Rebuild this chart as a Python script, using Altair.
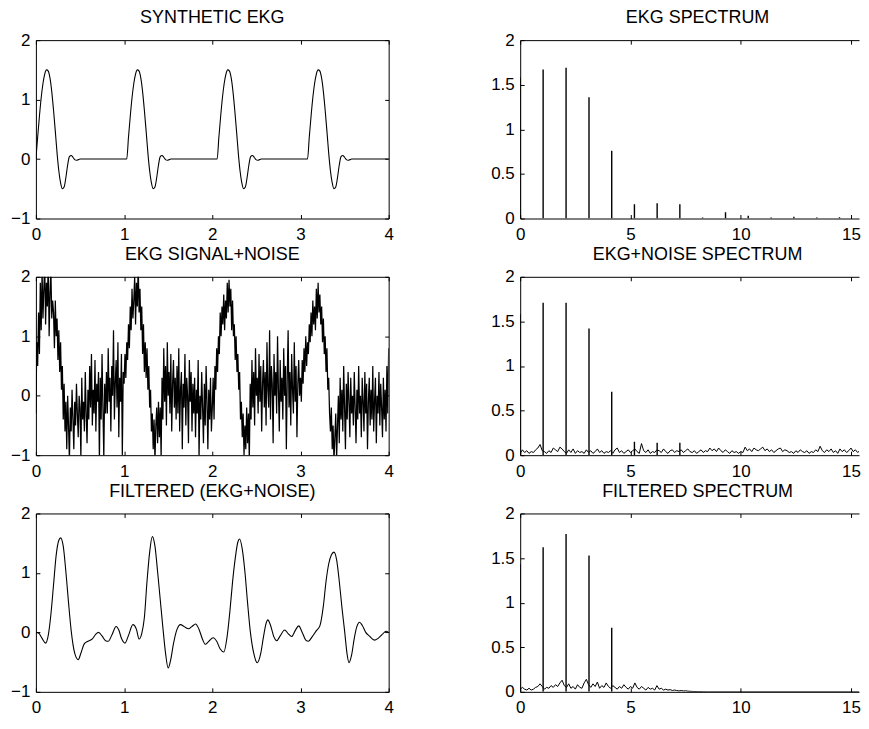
import altair as alt
import numpy as np
import pandas as pd

FONT = "Liberation Sans"
LW, RW, H = 354, 340, 179

# ---------------- data ----------------
# synthetic EKG: one beat shape (offset from beat start, s) and beat starts
beat_offset = np.round(np.arange(26) * 0.02, 2)
beat_shape = [0.0, 0.37, 0.72, 1.03, 1.27, 1.43, 1.50, 1.48, 1.36, 1.13,
              0.82, 0.47, 0.10, -0.20, -0.40, -0.50, -0.47, -0.31, -0.10, 0.04,
              0.06, 0.03, -0.01, -0.02, -0.01, 0.0]
beat_starts = [0.0, 1.03, 2.055, 3.08]

# EKG + noise, sampled every 0.01 s from 0 to 4 s
noisy_t = np.round(np.arange(401) * 0.01, 2)
noisy_y = [
    -0.3, 0.9, 0.5, 1.4, 0.7, 1.9, 1.1, 2.1, 1.3, 1.8, 2.2, 1.2, 1.9, 1.5, 2.3, 1.0, 1.7, 2.1, 1.3, 1.6,
    1.4, 0.8, 1.6, 1.0, 1.3, 0.6, 1.1, 0.4, 0.9, 0.1, 0.5, -0.4, 0.2, -0.6, -0.1, -0.9, 0.0, -0.5, -1.1, -0.2,
    -0.6, 0.1, -0.4, -0.9, -0.1, -0.5, 0.2, -0.3, -0.7, 0.0, -0.2, -1.05, 0.3, -0.4, -0.1, -0.6, 0.4, -0.3, -0.8, 0.1,
    -0.4, 0.5, -0.2, 0.7, -0.5, 0.1, -0.3, 0.6, -0.6, 0.2, -0.1, 0.4, -1.1, 0.3, -0.4, 0.7, -0.2, -1.05, 0.2, -0.3,
    0.4, -0.3, 0.8, -0.1, 0.3, -0.6, 0.5, 0.0, 1.1, -0.4, 0.2, 0.6, -0.2, 0.9, -0.7, 0.3, -0.1, 0.7, -1.0, 0.4,
    0.2, 0.7, 0.3, 0.9, 0.6, 1.2, 0.8, 1.5, 1.1, 1.8, 1.3, 1.6, 2.0, 1.2, 1.9, 1.5, 2.2, 1.4, 1.8, 1.1,
    1.5, 0.7, 1.2, 0.4, 0.9, 0.3, 0.8, 0.1, 0.5, -0.2, 0.1, -0.6, -0.3, -0.9, -0.4, -1.1, -0.5, -0.2, -0.8, -0.1,
    -0.7, -0.2, -1.05, 0.3, -0.4, 0.8, -0.1, 0.5, -0.5, 0.9, 0.0, 0.4, -0.3, 0.7, -0.6, 0.2, 0.6, -0.2, 0.3, -0.4,
    0.5, -0.3, 0.8, -0.6, 0.1, 0.4, -0.9, 0.2, -0.2, 0.7, -0.5, 0.3, 0.0, -0.8, 0.6, -0.1, 0.4, -0.6, 0.2, -0.3,
    0.3, -0.7, 0.1, -0.3, 0.6, -1.05, 0.0, -0.4, 0.4, -0.2, -0.8, 0.2, -0.5, 0.5, -0.1, -0.9, 0.1, -0.4, 0.3, -0.6,
    -0.2, 0.3, -0.4, 0.5, 0.1, 0.8, 0.4, 1.0, 0.7, 1.4, 1.0, 1.5, 1.2, 1.7, 1.1, 1.6, 1.3, 1.9, 1.4, 1.95,
    1.5, 1.8, 1.1, 1.6, 1.0, 1.2, 0.6, 1.0, 0.4, 0.7, 0.1, 0.4, -0.4, -0.1, -0.7, -0.3, -1.0, -0.5, -0.9, -0.2,
    -0.8, -0.3, -1.1, 0.2, -0.4, 0.6, -0.2, 0.4, -0.5, 0.8, 0.0, 0.3, -0.3, 0.7, -0.1, 0.5, -0.6, 0.2, 0.6, -0.2,
    0.4, -0.5, 0.9, 0.1, -0.2, 1.1, -0.4, 0.5, 0.2, -0.8, 0.7, 0.0, 0.4, -0.3, 1.0, 0.1, -0.6, 0.6, -0.1, 0.3,
    -0.4, 0.8, 0.0, 0.5, -0.9, 0.3, 1.1, -0.2, 0.4, -0.5, 0.7, 0.1, -0.3, 0.9, -0.1, 0.5, -0.7, 0.2, 0.6, 0.0,
    0.3, -0.1, 0.6, 0.2, 0.8, 0.4, 1.0, 0.5, 0.9, 0.7, 1.2, 0.9, 1.4, 1.0, 1.6, 1.2, 1.5, 1.1, 1.8, 1.3,
    1.9, 1.4, 1.7, 1.2, 1.5, 0.9, 1.3, 0.7, 1.0, 0.4, 0.8, 0.1, 0.3, -0.3, -0.6, -0.2, -0.9, -0.5, -1.1, -0.7,
    -0.3, -1.05, -0.5, 0.0, -0.8, 0.3, -0.4, 0.1, -0.6, 0.5, -0.2, -0.9, 0.2, -0.4, 0.4, -0.1, -0.7, 0.3, -0.3, 0.0,
    -0.5, 0.4, -0.2, -0.8, 0.1, -0.4, 0.5, -0.3, 0.0, -0.7, 0.3, -0.1, -0.6, 0.4, -0.3, 0.2, -0.9, -0.1, 0.3, -0.5,
    0.1, -0.4, 0.5, -0.6, -0.1, 0.3, -0.8, 0.0, -0.3, 0.4, -0.5, 0.2, -0.2, -0.7, 0.3, -0.4, 0.1, -0.6, 0.5, -0.3,
    0.8,
]

# filtered (EKG + noise)
filt_t = [0.00, 0.03, 0.07, 0.11, 0.14, 0.17, 0.20, 0.23, 0.26, 0.28, 0.31, 0.34, 0.37, 0.40, 0.44,
          0.48, 0.51, 0.55, 0.59, 0.64, 0.68, 0.71, 0.75, 0.79, 0.82, 0.86, 0.91, 0.94, 0.97, 1.01,
          1.05, 1.10, 1.14, 1.17, 1.20, 1.23, 1.26, 1.29, 1.32, 1.35, 1.38, 1.41, 1.44, 1.47, 1.50,
          1.53, 1.56, 1.60, 1.64, 1.68, 1.73, 1.77, 1.81, 1.85, 1.89, 1.92, 1.96, 2.01, 2.05, 2.09,
          2.13, 2.17, 2.20, 2.23, 2.26, 2.29, 2.31, 2.34, 2.37, 2.40, 2.43, 2.47, 2.51, 2.55, 2.58,
          2.61, 2.63, 2.66, 2.70, 2.73, 2.77, 2.82, 2.86, 2.90, 2.94, 2.98, 3.02, 3.06, 3.09, 3.13,
          3.18, 3.22, 3.26, 3.29, 3.32, 3.35, 3.38, 3.41, 3.44, 3.47, 3.50, 3.53, 3.55, 3.58, 3.61,
          3.64, 3.67, 3.70, 3.74, 3.78, 3.84, 3.88, 3.93, 3.97, 4.00]
filt_y = [0.00, -0.01, -0.10, -0.18, -0.05, 0.30, 0.80, 1.30, 1.55, 1.59, 1.45, 1.02, 0.50, 0.03, -0.35,
          -0.46, -0.35, -0.19, -0.15, -0.11, -0.03, 0.00, -0.06, -0.14, -0.15, -0.05, 0.10, 0.04, -0.10, -0.18,
          -0.05, 0.13, 0.05, -0.11, -0.02, 0.25, 0.86, 1.35, 1.61, 1.45, 1.02, 0.55, 0.08, -0.35, -0.60,
          -0.45, -0.19, 0.05, 0.13, 0.10, 0.06, 0.10, 0.14, 0.05, -0.12, -0.20, -0.15, -0.09, -0.15, -0.28,
          -0.33, -0.05, 0.36, 0.85, 1.24, 1.52, 1.57, 1.40, 1.02, 0.50, 0.03, -0.35, -0.51, -0.35, -0.08,
          0.15, 0.21, 0.12, -0.08, -0.14, -0.06, 0.04, -0.02, -0.07, 0.03, 0.11, 0.00, -0.13, -0.15, -0.08,
          0.03, 0.11, 0.45, 0.86, 1.15, 1.30, 1.35, 1.22, 0.86, 0.42, 0.03, -0.38, -0.51, -0.38, -0.10,
          0.10, 0.17, 0.12, 0.00, -0.06, -0.13, -0.10, -0.03, 0.02, 0.00]

# spectra: harmonic peaks (Hz, magnitude)
ekg_peak_f = [0.0, 1.04, 2.08, 3.12, 4.15, 5.18, 6.21, 7.24, 8.27, 9.31, 10.34, 11.38, 12.41, 13.45, 14.48]
ekg_peak_a = [1.58, 1.67, 1.69, 1.36, 0.76, 0.16, 0.17, 0.16, 0.01, 0.07, 0.03, 0.01, 0.02, 0.01, 0.015]

noise_peak_f = [0.0, 1.04, 2.08, 3.12, 4.15, 5.18, 6.21, 7.24]
noise_peak_a = [1.58, 1.71, 1.71, 1.42, 0.71, 0.15, 0.14, 0.14]
noise_floor_f = np.round(np.arange(158) * 0.1, 1)
noise_floor_a = [
    0.02, 0.06, 0.03, 0.05, 0.02, 0.04, 0.03, 0.06, 0.08, 0.12,
    0.05, 0.04, 0.02, 0.05, 0.03, 0.08, 0.06, 0.04, 0.09, 0.07,
    0.04, 0.02, 0.06, 0.03, 0.07, 0.02, 0.05, 0.03, 0.04, 0.02,
    0.06, 0.03, 0.05, 0.02, 0.04, 0.07, 0.03, 0.05, 0.02, 0.04,
    0.03, 0.05, 0.02, 0.06, 0.08, 0.03, 0.05, 0.02, 0.04, 0.06,
    0.03, 0.05, 0.07, 0.04, 0.02, 0.13, 0.05, 0.03, 0.06, 0.02,
    0.04, 0.03, 0.06, 0.05, 0.03, 0.07, 0.04, 0.02, 0.05, 0.06,
    0.03, 0.05, 0.04, 0.06, 0.03, 0.05, 0.07, 0.04, 0.03, 0.05,
    0.02, 0.04, 0.06, 0.03, 0.05, 0.04, 0.08, 0.05, 0.07, 0.04,
    0.08, 0.05, 0.03, 0.06, 0.04, 0.02, 0.05, 0.03, 0.04, 0.02,
    0.04, 0.03, 0.09, 0.05, 0.07, 0.04, 0.08, 0.06, 0.05, 0.07,
    0.09, 0.05, 0.07, 0.04, 0.06, 0.03, 0.05, 0.07, 0.08, 0.04,
    0.06, 0.05, 0.03, 0.04, 0.02, 0.05, 0.03, 0.06, 0.04, 0.03,
    0.05, 0.02, 0.04, 0.03, 0.06, 0.04, 0.10, 0.05, 0.03, 0.06,
    0.04, 0.07, 0.03, 0.05, 0.02, 0.07, 0.04, 0.06, 0.03, 0.05,
    0.08, 0.04, 0.06, 0.03, 0.05, 0.07, 0.04, 0.05,
]

filt_peak_f = [0.0, 1.04, 2.08, 3.12, 4.15]
filt_peak_a = [1.43, 1.62, 1.77, 1.53, 0.72]
filt_floor_f = list(np.round(np.arange(86) * 0.1, 1)) + [15.7]
filt_floor_a = [
    0.03, 0.05, 0.03, 0.02, 0.04, 0.02, 0.03, 0.05, 0.06, 0.09,
    0.06, 0.03, 0.05, 0.04, 0.07, 0.05, 0.08, 0.06, 0.10, 0.13,
    0.07, 0.05, 0.09, 0.04, 0.06, 0.03, 0.08, 0.05, 0.04, 0.10,
    0.14, 0.08, 0.05, 0.09, 0.06, 0.11, 0.04, 0.07, 0.05, 0.10,
    0.06, 0.04, 0.07, 0.05, 0.03, 0.06, 0.04, 0.08, 0.05, 0.03,
    0.06, 0.04, 0.10, 0.05, 0.03, 0.06, 0.04, 0.02, 0.05, 0.03,
    0.04, 0.02, 0.07, 0.03, 0.04, 0.02, 0.03, 0.02, 0.025, 0.015,
    0.02, 0.015, 0.01, 0.015, 0.01, 0.012, 0.008, 0.006, 0.005, 0.004,
    0.003, 0.002, 0.002, 0.001, 0.001, 0.0,
    0.0,
]

titles = ["SYNTHETIC EKG", "EKG SPECTRUM", "EKG SIGNAL+NOISE",
          "EKG+NOISE SPECTRUM", "FILTERED (EKG+NOISE)", "FILTERED SPECTRUM"]
time_ticks = [0, 1, 2, 3, 4]
sig_ticks = [-1, 0, 1, 2]
freq_ticks = [0, 5, 10, 15]
mag_ticks = [0, 0.5, 1, 1.5, 2]

# ---------------- tables ----------------
ekg_rows = []
for s in beat_starts:
    for o, v in zip(beat_offset, beat_shape):
        ekg_rows.append((s + o, v))
ekg_rows.append((4.0, 0.0))
df_ekg = pd.DataFrame(ekg_rows, columns=["t", "y"])
df_noisy = pd.DataFrame({"t": noisy_t, "y": noisy_y})
df_filt = pd.DataFrame({"t": filt_t, "y": filt_y})
df_ekg_pk = pd.DataFrame({"f": ekg_peak_f, "a": ekg_peak_a})
df_noise_pk = pd.DataFrame({"f": noise_peak_f, "a": noise_peak_a})
df_noise_fl = pd.DataFrame({"f": noise_floor_f, "a": noise_floor_a})
df_filt_pk = pd.DataFrame({"f": filt_peak_f, "a": filt_peak_a})
df_filt_fl = pd.DataFrame({"f": filt_floor_f, "a": filt_floor_a})


# ---------------- helpers ----------------
def X(field, scale, axis):
    return alt.X(field, type="quantitative", scale=scale, axis=axis, title=None)


def Y(field, scale, axis):
    return alt.Y(field, type="quantitative", scale=scale, axis=axis, title=None)


def main_x(vals):
    return alt.Axis(orient="bottom", values=vals, ticks=False, domain=True, labelPadding=8,
                    format="~g", grid=False, labelFlush=False, labelOverlap=False)


def main_y(vals):
    return alt.Axis(orient="left", values=vals, ticks=False, domain=True, labelPadding=6,
                    format="~g", grid=False, labelOverlap=False)


def tick_axis(orient, offset, vals, domain):
    return alt.Axis(orient=orient, offset=offset, values=vals, labels=False, ticks=True,
                    tickSize=4, domain=domain, grid=False)


def panel(kind, df_main, xf, yf, extra, W, xdom, ydom, xvals, yvals, title, right_edge, dx):
    xs = alt.Scale(domain=xdom, nice=False, zero=False)
    ys = alt.Scale(domain=ydom, nice=False, zero=False)
    layers = []
    if kind == "line":
        layers.append(alt.Chart(df_main).mark_line(color="black", strokeWidth=1.1, clip=True,
                                                   interpolate="monotone")
                      .encode(x=X(xf, xs, main_x(xvals)), y=Y(yf, ys, main_y(yvals)), order=xf))
    elif kind == "noisy":
        layers.append(alt.Chart(df_main).mark_line(color="black", strokeWidth=1.25, clip=True)
                      .encode(x=X(xf, xs, main_x(xvals)), y=Y(yf, ys, main_y(yvals)), order=xf))
    elif kind == "rule":
        layers.append(alt.Chart(df_main).mark_rule(color="black", strokeWidth=1.4, clip=True)
                      .encode(x=X(xf, xs, main_x(xvals)), y=Y(yf, ys, main_y(yvals)), y2=alt.datum(0)))
    elif kind == "floor":
        layers.append(alt.Chart(df_main).mark_line(color="black", strokeWidth=1.0, clip=True)
                      .encode(x=X(xf, xs, main_x(xvals)), y=Y(yf, ys, main_y(yvals)), order=xf))
    if extra is not None:
        layers.append(alt.Chart(extra).mark_rule(color="black", strokeWidth=1.4, clip=True)
                      .encode(x=X("f", xs, None), y=Y("a", ys, None), y2=alt.datum(0)))
    tick_a = alt.Chart(df_main).mark_point(opacity=0, size=1, clip=True).encode(
        x=X(xf, xs, tick_axis("top", -H, xvals, False)),
        y=Y(yf, ys, tick_axis("right", -W, yvals, False)))
    tick_b = alt.Chart(df_main).mark_point(opacity=0, size=1, clip=True).encode(
        x=X(xf, xs, tick_axis("bottom", -H, xvals, True)),
        y=Y(yf, ys, tick_axis("left", -W, yvals, True) if right_edge else None))
    layers += [tick_a, tick_b]
    return (alt.layer(*layers)
            .resolve_axis(x="independent", y="independent")
            .properties(width=W, height=H, title=alt.TitleParams(title, dx=dx)))


FMAX = RW / 22.13
p1 = panel("line", df_ekg, "t", "y", None, LW, [0, 4], [-1, 2], time_ticks, sig_ticks, titles[0], True, 0)
p2 = panel("rule", df_ekg_pk, "f", "a", None, RW, [0, FMAX], [0, 2], freq_ticks, mag_ticks, titles[1], False, 8)
p3 = panel("noisy", df_noisy, "t", "y", None, LW, [0, 4], [-1, 2], time_ticks, sig_ticks, titles[2], True, 0)
p4 = panel("floor", df_noise_fl, "f", "a", df_noise_pk, RW, [0, FMAX], [0, 2], freq_ticks, mag_ticks, titles[3], False, 8)
p5 = panel("line", df_filt, "t", "y", None, LW, [0, 4], [-1, 2], time_ticks, sig_ticks, titles[4], True, 0)
p6 = panel("floor", df_filt_fl, "f", "a", df_filt_pk, RW, [0, FMAX], [0, 2], freq_ticks, mag_ticks, titles[5], False, 8)

chart = (alt.concat(p1, p2, p3, p4, p5, p6, columns=2, bounds="flush",
                    spacing={"row": 58.5, "column": 132})
         .properties(padding={"left": 2, "top": 0, "right": 0, "bottom": 0}, background="white")
         .configure_view(strokeWidth=0)
         .configure_axis(labelFont=FONT, labelFontSize=17, labelColor="black",
                         domainColor="black", tickColor="black", domainWidth=1, tickWidth=1)
         .configure_title(font=FONT, fontSize=18, fontWeight="normal", color="black",
                          offset=0, frame="group", anchor="middle"))

chart.save("out.html", embed_options={"renderer": "svg", "actions": False})
